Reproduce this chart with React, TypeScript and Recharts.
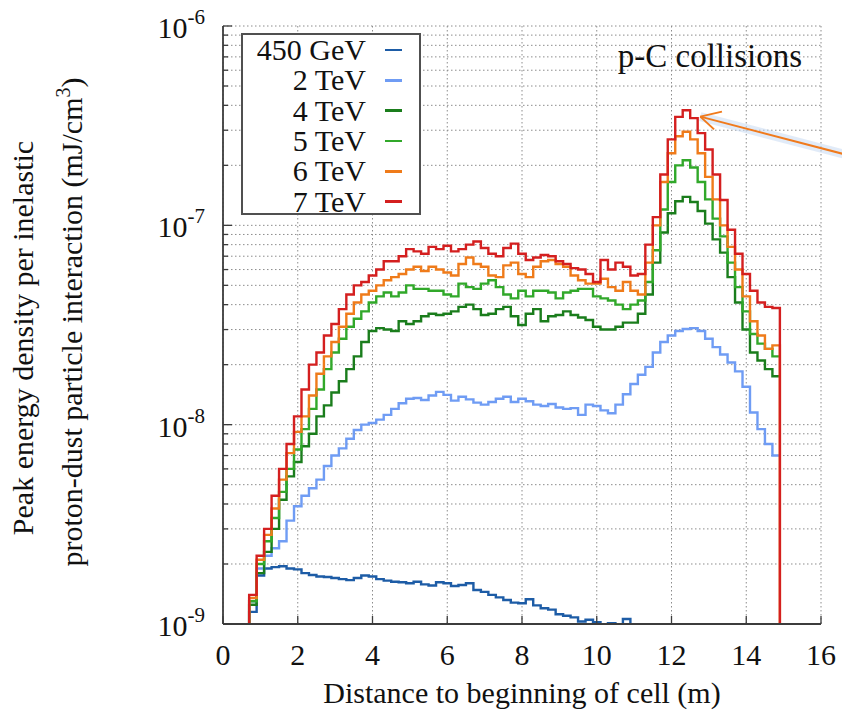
import React from 'react';
import {
  LineChart,
  Line,
  XAxis,
  YAxis,
  CartesianGrid,
  Legend,
  ReferenceLine,
  Customized,
} from 'recharts';

// values are in units of 1e-9 mJ/cm^3
const SCALE = 1e-9;
// below the plotted range (draws the step down through the axis)
const BELOW = 0.3;

// left edges of the 0.2 m bins; first entry is a lead-in, last one closes the last bin
const BIN_EDGES = [
  0.5, 0.7, 0.9, 1.1, 1.3, 1.5, 1.7, 1.9, 2.1, 2.3, 2.5, 2.7, 2.9, 3.1, 3.3, 3.5, 3.7, 3.9, 4.1, 4.3,
  4.5, 4.7, 4.9, 5.1, 5.3, 5.5, 5.7, 5.9, 6.1, 6.3, 6.5, 6.7, 6.9, 7.1, 7.3, 7.5, 7.7, 7.9, 8.1, 8.3,
  8.5, 8.7, 8.9, 9.1, 9.3, 9.5, 9.7, 9.9, 10.1, 10.3, 10.5, 10.7, 10.9, 11.1, 11.3, 11.5, 11.7, 11.9,
  12.1, 12.3, 12.5, 12.7, 12.9, 13.1, 13.3, 13.5, 13.7, 13.9, 14.1, 14.3, 14.5, 14.7, 14.9,
];

const GEV_450 = [
  BELOW,
  1.15, 1.75, 1.9, 1.93, 1.95, 1.9, 1.88, 1.8, 1.76, 1.73,
  1.72, 1.7, 1.68, 1.66, 1.7, 1.75, 1.73, 1.68, 1.65, 1.63,
  1.62, 1.6, 1.63, 1.58, 1.56, 1.62, 1.6, 1.55, 1.57, 1.6,
  1.48, 1.45, 1.4, 1.36, 1.32, 1.28, 1.27, 1.33, 1.24, 1.2,
  1.18, 1.12, 1.1, 1.08, 1.03, 1.05, 1.02, 0.95, 1.01, 0.9,
  1.06, BELOW, null, null, null, null, null, null, null, null,
  null, null, null, null, null, null, null, null, null, null,
  null,
  null,
];

const TEV_2 = [
  BELOW,
  1.3, 1.9, 2.2, 2.4, 2.6, 3.3, 3.9, 4.4, 4.8, 5.3,
  6.2, 7.0, 7.6, 8.5, 9.4, 10, 10.2, 10.6, 11.2, 12,
  12.8, 13.5, 13.6, 13.3, 14, 14.6, 14.1, 13.2, 13.8, 13.4,
  12.9, 12.6, 13.0, 13.5, 13.8, 13.0, 13.5, 13.1, 12.6, 12.4,
  12.7, 12.2, 12.0, 12.1, 11.2, 12.6, 12.4, 11.8, 11.4, 12.6,
  14.2, 16, 17.8, 19.5, 23, 26, 28, 29.5, 30.2, 30.5,
  29.5, 27, 24.5, 22.5, 20.5, 18.5, 15.5, 11.5, 9.5, 8.0,
  7.0,
  7.0,
];

const TEV_4 = [
  BELOW,
  1.25, 1.8, 2.3, 3.0, 4.2, 5.5, 6.5, 7.8, 9.0, 11,
  12.5, 14.5, 16.5, 19, 22, 26, 29.5, 30.5, 30, 29.5,
  33, 32, 33, 35, 36, 35.5, 36, 37, 39, 40,
  38, 35.5, 36, 38, 39, 35, 31.6, 36, 38, 33,
  35, 35.5, 37, 35.5, 34.5, 33.5, 31, 30, 30, 31,
  32.5, 32.5, 36, 45, 65, 92, 115, 132, 139, 131,
  118, 102, 85, 73, 55, 41, 30, 23, 21, 19,
  17.5,
  17.5,
];

const TEV_5 = [
  BELOW,
  1.3, 2.0, 2.6, 3.4, 4.6, 6.0, 7.5, 9.5, 12, 15,
  19, 23, 27, 31, 34, 37, 41, 44, 46, 44,
  46, 50, 48, 48, 47, 47, 45, 44, 51, 49,
  48, 51, 53, 49, 45, 43, 47, 44, 47, 47,
  46, 43, 46, 47, 48, 48, 44, 43, 42, 40,
  38, 40, 42, 52, 75, 120, 165, 200, 212, 195,
  165, 135, 108, 88, 65, 49, 37, 28.5, 25.5, 24,
  22,
  22,
];

const TEV_6 = [
  BELOW,
  1.35, 2.1, 2.8, 3.8, 5.3, 7.2, 9.2, 11, 14, 18,
  22, 26, 31, 36, 41, 45, 47, 50, 53, 55,
  57, 60, 62, 59, 62, 60, 58, 56, 64, 69,
  64, 62, 56, 55, 63, 65, 57, 55, 62, 66,
  67, 64, 62, 56, 53, 51, 51, 54, 49, 47,
  52, 47, 45, 65, 100, 165, 230, 280, 295, 270,
  230, 175, 135, 100, 78, 60, 44, 33, 28, 24,
  25,
  BELOW,
];

const TEV_7 = [
  BELOW,
  1.4, 2.2, 3.0, 4.4, 6.0, 8.0, 11, 15, 20, 23,
  28, 32, 38, 45, 50, 52, 56, 60, 66, 66,
  70, 76, 74, 72, 78, 76, 79, 74, 76, 80,
  83, 77, 72, 70, 77, 81, 72, 67, 69, 71,
  70, 66, 64, 61, 60, 57, 52, 67, 60, 65,
  62, 56, 57, 80, 110, 180, 270, 350, 378, 345,
  290, 240, 180, 134, 95, 72, 57, 47, 41, 39,
  38.5,
  BELOW,
];

const SERIES = [
  { key: 'gev450', name: '450 GeV', color: '#1d5ca6', values: GEV_450 },
  { key: 'tev2', name: '2 TeV', color: '#6f9cf4', values: TEV_2 },
  { key: 'tev4', name: '4 TeV', color: '#1a7d1c', values: TEV_4 },
  { key: 'tev5', name: '5 TeV', color: '#31a82a', values: TEV_5 },
  { key: 'tev6', name: '6 TeV', color: '#ef7b1a', values: TEV_6 },
  { key: 'tev7', name: '7 TeV', color: '#d41f1f', values: TEV_7 },
];

const X_TICKS = [0, 2, 4, 6, 8, 10, 12, 14, 16];
const DECADES = [-9, -8, -7];
const MANTISSAS = [1, 2, 3, 4, 5, 6, 7, 8, 9];
const Y_TICKS = [
  ...DECADES.flatMap((d) => MANTISSAS.map((m) => m * Math.pow(10, d))),
  1e-6,
];

const FONT = '"Liberation Serif", "Times New Roman", Times, serif';
const AXIS = '#3c3c3c';
const TEXT = '#111';

const data = BIN_EDGES.map((x, i) => {
  const row: Record<string, number | null> = { x };
  SERIES.forEach((s) => {
    const v = s.values[i];
    row[s.key] = v == null ? null : v * SCALE;
  });
  return row;
});

const isMajor = (v: number) => {
  const e = Math.round(Math.log10(v));
  return Math.abs(v / Math.pow(10, e) - 1) < 1e-6;
};

const LeftTick = (props: any) => {
  const { x, y, payload } = props;
  const v = payload.value as number;
  const major = isMajor(v);
  const exp = Math.round(Math.log10(v));
  return (
    <g>
      <line x1={x} x2={x + (major ? 9 : 5)} y1={y} y2={y} stroke={AXIS} strokeWidth={1.3} />
      {major && (
        <text x={x - 18} y={y + 12} textAnchor="end" fontFamily={FONT} fontSize={30} fill={TEXT}>
          10
          <tspan dy={-14} fontSize={21}>
            {exp}
          </tspan>
        </text>
      )}
    </g>
  );
};

const RightTick = (props: any) => {
  const { x, y, payload } = props;
  const major = isMajor(payload.value);
  return <line x1={x - (major ? 9 : 5)} x2={x} y1={y} y2={y} stroke={AXIS} strokeWidth={1.3} />;
};

const BottomTick = (props: any) => {
  const { x, y, payload } = props;
  return (
    <g>
      <line x1={x} x2={x} y1={y} y2={y - 8} stroke={AXIS} strokeWidth={1.3} />
      <text x={x} y={y + 41} textAnchor="middle" fontFamily={FONT} fontSize={30} fill={TEXT}>
        {payload.value}
      </text>
    </g>
  );
};

const TopTick = (props: any) => {
  const { x, y } = props;
  return <line x1={x} x2={x} y1={y} y2={y + 8} stroke={AXIS} strokeWidth={1.3} />;
};

const LegendBox = () => (
  <div
    style={{
      boxSizing: 'border-box',
      width: 180,
      height: 182,
      border: '2px solid #505050',
      background: '#fff',
      paddingTop: 0,
      fontFamily: FONT,
      fontSize: 30,
      color: TEXT,
    }}
  >
    {SERIES.map((s) => (
      <div key={s.key} style={{ display: 'flex', alignItems: 'center', height: 30.3, lineHeight: '30px' }}>
        <span style={{ width: 123, textAlign: 'right', whiteSpace: 'nowrap' }}>{s.name}</span>
        <span style={{ display: 'inline-block', marginLeft: 19, width: 17, height: 2.5, background: s.color }} />
      </div>
    ))}
  </div>
);

const Labels = () => (
  <g fontFamily={FONT} fill={TEXT}>
    <text x={802} y={67} textAnchor="end" fontSize={33}>
      p-C collisions
    </text>
    <text transform="translate(33,338) rotate(-90)" textAnchor="middle" fontSize={30}>
      Peak energy density per inelastic
    </text>
    <text transform="translate(82,322) rotate(-90)" textAnchor="middle" fontSize={30}>
      proton-dust particle interaction (mJ/cm
      <tspan dy={-12} fontSize={20}>
        3
      </tspan>
      <tspan dy={12}>)</tspan>
    </text>
  </g>
);

// annotation arrow pointing at the 7 TeV peak
const ARROW_TIP = { x: 12.77, y: 3.51e-7 };
const ARROW_TAIL = { x: 16.6, y: 2.28e-7 };
const ARROW_BARB_A = { x: 13.35, y: 3.72e-7 };
const ARROW_BARB_B = { x: 13.14, y: 3.03e-7 };

export default function App() {
  return (
    <div style={{ position: 'absolute', left: 0, top: 0, width: 842, height: 717, background: '#fff' }}>
      <LineChart width={842} height={717} data={data} margin={{ top: 26, right: 21, bottom: 0, left: 0 }}>
        <CartesianGrid stroke="#8c8c8c" strokeDasharray="1.5 2.5" strokeWidth={1} />
        <XAxis
          dataKey="x"
          type="number"
          domain={[0, 16]}
          ticks={X_TICKS}
          allowDataOverflow
          height={93}
          tickSize={0}
          tickMargin={0}
          tick={<BottomTick />}
          axisLine={{ stroke: AXIS, strokeWidth: 1.8 }}
          tickLine={false}
          label={{
            value: 'Distance to beginning of cell (m)',
            position: 'insideBottom',
            offset: 14,
            style: { fontFamily: FONT, fontSize: 30, fill: TEXT },
          }}
        />
        <XAxis
          xAxisId="top"
          orientation="top"
          dataKey="x"
          type="number"
          domain={[0, 16]}
          ticks={X_TICKS}
          allowDataOverflow
          height={0}
          tickSize={0}
          tickMargin={0}
          tick={<TopTick />}
          axisLine={{ stroke: AXIS, strokeWidth: 1.8 }}
          tickLine={false}
        />
        <YAxis
          type="number"
          scale="log"
          domain={[1e-9, 1e-6]}
          ticks={Y_TICKS}
          allowDataOverflow
          width={223}
          tickSize={0}
          tickMargin={0}
          tick={<LeftTick />}
          axisLine={{ stroke: AXIS, strokeWidth: 1.8 }}
          tickLine={false}
          interval={0}
        />
        <YAxis
          yAxisId="right"
          orientation="right"
          type="number"
          scale="log"
          domain={[1e-9, 1e-6]}
          ticks={Y_TICKS}
          allowDataOverflow
          width={0}
          tickSize={0}
          tickMargin={0}
          tick={<RightTick />}
          axisLine={{ stroke: AXIS, strokeWidth: 1.8 }}
          tickLine={false}
          interval={0}
        />
        {SERIES.map((s) => (
          <Line
            key={s.key}
            dataKey={s.key}
            name={s.name}
            type="stepAfter"
            stroke={s.color}
            strokeWidth={2.4}
            dot={false}
            activeDot={false}
            connectNulls={false}
            isAnimationActive={false}
          />
        ))}
        <ReferenceLine
          segment={[ARROW_TIP, ARROW_TAIL]}
          ifOverflow="visible"
          stroke="#c9daf3"
          strokeWidth={9}
          strokeOpacity={0.55}
        />
        <ReferenceLine segment={[ARROW_TIP, ARROW_TAIL]} ifOverflow="visible" stroke="#f07a1c" strokeWidth={2} />
        <ReferenceLine segment={[ARROW_TIP, ARROW_BARB_A]} ifOverflow="visible" stroke="#f07a1c" strokeWidth={2} />
        <ReferenceLine segment={[ARROW_TIP, ARROW_BARB_B]} ifOverflow="visible" stroke="#f07a1c" strokeWidth={2} />
        <Legend
          layout="vertical"
          align="center"
          verticalAlign="middle"
          wrapperStyle={{ position: 'absolute', left: 241, top: 33, width: 180, height: 182, margin: 0 }}
          content={<LegendBox />}
        />
        <Customized component={Labels} />
      </LineChart>
    </div>
  );
}
